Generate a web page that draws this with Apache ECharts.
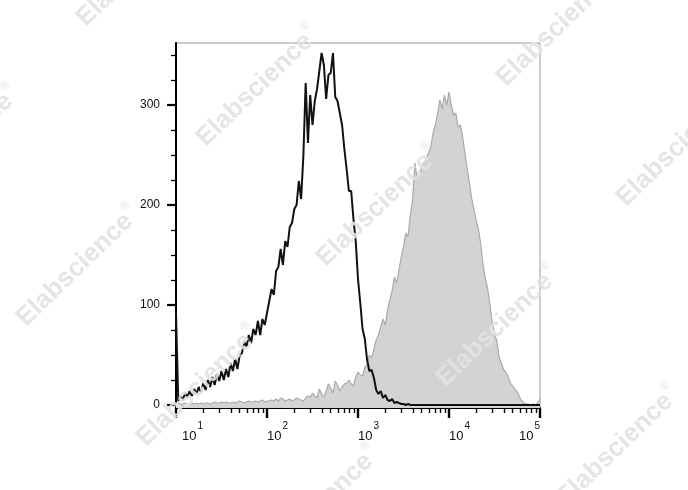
<!DOCTYPE html>
<html><head><meta charset="utf-8">
<script src="https://cdn.jsdelivr.net/npm/echarts@6/dist/echarts.min.js"></script>
<style>html,body{margin:0;padding:0;background:#fff}#c{width:688px;height:490px}</style>
</head><body><div id="c"></div>
<script>
// Histogram bins: log10 channel centres from 10^1 to 10^5
const binStartLog = 1.0;
const binStepLog = 0.025;
const binCount = 161;

// Unstained / control (black line)
const unstainedCounts = [
  92,4,9,5,12,8,14,9,16,11,18,13,22,15,25,18,28,20,31,24,
  34,25,36,28,42,34,46,36,50,52,64,58,70,62,76,70,84,70,86,80,
  92,104,116,110,134,138,156,140,164,158,178,182,196,200,224,206,250,322,262,310,
  280,304,316,334,352,340,306,330,332,352,308,304,292,280,256,236,214,214,186,164,
  126,102,76,66,45,34,35,27,15,11,14,7,10,5,4,6,2,3,2,1,
  1,0,1,0,0,0,0,0,0,0,0,0,0,0,0,0,0,0,0,0,
  0,0,0,0,0,0,0,0,0,0,0,0,0,0,0,0,0,0,0,0,
  0,0,0,0,0,0,0,0,0,0,0,0,0,0,0,0,0,0,0,0,0
];

// Stained sample (grey filled)
const stainedCounts = [
  2,2,1,1,2,1,1,2,1,2,1,
  2,1,2,2,1,2,3,2,2,3,
  2,3,2,2,3,2,3,4,3,2,
  3,4,3,3,4,3,4,5,3,4,
  4,5,4,6,4,7,6,4,5,6,
  4,5,7,6,5,4,7,9,8,12,
  9,7,16,11,8,14,21,17,12,24,
  20,14,18,21,22,25,21,19,28,33,
  30,29,38,40,50,47,56,65,70,78,
  86,80,95,105,114,128,122,135,148,158,
  172,168,190,205,242,226,230,238,242,246,
  252,258,272,280,292,305,296,310,300,313,
  300,290,292,278,280,268,252,236,222,206,
  195,184,175,160,140,126,116,100,82,72,
  64,48,42,35,33,28,22,19,16,13,
  8,4,2,1,1,0,1,0,2,6
];

const xMajorTicks = [10, 100, 1000, 10000, 100000];
const xMinorTicks = [20,30,40,50,60,70,80,90,200,300,400,500,600,700,800,900,
  2000,3000,4000,5000,6000,7000,8000,9000,20000,30000,40000,50000,60000,70000,80000,90000];
const yMajorTicks = [0, 100, 200, 300];
const yMinorTicks = [25,50,75,125,150,175,225,250,275,325,350];
const watermarkText = 'Elabscience';

const binCentres = [];
for (let i = 0; i < binCount; i++) binCentres.push(Math.pow(10, binStartLog + binStepLog * i));
const unstainedData = binCentres.map((x, i) => [x, unstainedCounts[i]]);
const stainedData = binCentres.map((x, i) => [x, stainedCounts[i]]);

const FONT = '"Liberation Sans", Arial, sans-serif';
const X_MIN = 10, X_MAX = 100000, Y_MIN = -3, Y_MAX = 362;

const wmCentres = [[137,-35],[257,85],[377,205],[497,325],[617,445],
  [-43,145],[77,265],[197,385],[317,505],[557,25],[677,145]];
const graphics = wmCentres.map(c => ({
  type: 'text', x: c[0], y: c[1], rotation: 44 * Math.PI / 180, z: 100, silent: true,
  style: {
    text: '{w|' + watermarkText + '}{r|®}',
    align: 'center', verticalAlign: 'middle',
    rich: {
      w: { fontSize: 26, fontWeight: 'bold', fontFamily: FONT, fill: 'rgba(226,226,226,0.9)', verticalAlign: 'bottom', lineHeight: 30 },
      r: { fontSize: 12, fontFamily: FONT, fill: 'rgba(226,226,226,0.9)', verticalAlign: 'top', lineHeight: 14, padding: [0,0,0,1] }
    }
  }
}));

const chart = echarts.init(document.getElementById('c'), null, { renderer: 'canvas' });
chart.setOption({
  animation: false,
  backgroundColor: '#fff',
  grid: { left: 176, top: 43, width: 364, height: 365, show: true, borderColor: '#9a9a9a', borderWidth: 1, containLabel: false },
  xAxis: [
    {
      type: 'log', logBase: 10, min: X_MIN, max: X_MAX, position: 'bottom',
      axisLine: { show: true, onZero: false, lineStyle: { color: '#000', width: 2 } },
      axisTick: { show: true, length: 10, lineStyle: { color: '#000', width: 2.4 } },
      minorTick: { show: false },
      splitLine: { show: false },
      axisLabel: {
        show: true, margin: 20, align: 'left', alignMaxLabel: 'right',
        formatter: v => {
          const e = Math.round(Math.log10(v));
          return (e === 1 ? '{f|10}' : '{b|10}') + '{s|' + e + '}';
        },
        rich: {
          b: { fontSize: 13, fontFamily: FONT, color: '#111', verticalAlign: 'bottom', lineHeight: 15 },
          f: { fontSize: 13, fontFamily: FONT, color: '#111', verticalAlign: 'bottom', lineHeight: 15, padding: [0,0,0,6] },
          s: { fontSize: 10, fontFamily: FONT, color: '#111', verticalAlign: 'bottom', lineHeight: 12, padding: [0,0,12,1] }
        }
      }
    },
    {
      // minor decade ticks, placed on the same log positions via a log10 value axis
      type: 'value', min: Math.log10(X_MIN), max: Math.log10(X_MAX), position: 'bottom',
      axisLine: { show: false, onZero: false },
      axisTick: { show: true, customValues: xMinorTicks.map(v => Math.log10(v)), length: 5, lineStyle: { color: '#000', width: 1.4 } },
      axisLabel: { show: false },
      splitLine: { show: false }
    }
  ],
  yAxis: [
    {
      type: 'value', min: Y_MIN, max: Y_MAX, position: 'left',
      axisLine: { show: true, onZero: false, lineStyle: { color: '#000', width: 2 } },
      axisTick: { show: true, customValues: yMajorTicks, length: 9, lineStyle: { color: '#000', width: 2.2 } },
      splitLine: { show: false },
      axisLabel: { show: true, customValues: yMajorTicks, margin: 16, fontSize: 12, fontFamily: FONT, color: '#111' }
    },
    {
      type: 'value', min: Y_MIN, max: Y_MAX, position: 'left',
      axisLine: { show: false, onZero: false },
      axisTick: { show: true, customValues: yMinorTicks, length: 5, lineStyle: { color: '#000', width: 1.3 } },
      axisLabel: { show: false },
      splitLine: { show: false }
    }
  ],
  series: [
    {
      name: 'Stained', type: 'line', xAxisIndex: 0, yAxisIndex: 0, data: stainedData,
      showSymbol: false, symbol: 'none', silent: true, z: 2,
      lineStyle: { color: '#a9a9a9', width: 1.2 },
      areaStyle: { color: '#d3d3d3', opacity: 1, origin: 'start' }
    },
    {
      name: 'Unstained', type: 'line', xAxisIndex: 0, yAxisIndex: 0, data: unstainedData,
      showSymbol: false, symbol: 'none', silent: true, z: 3,
      lineStyle: { color: '#111', width: 2 }
    }
  ],
  graphic: graphics
});
</script></body></html>
